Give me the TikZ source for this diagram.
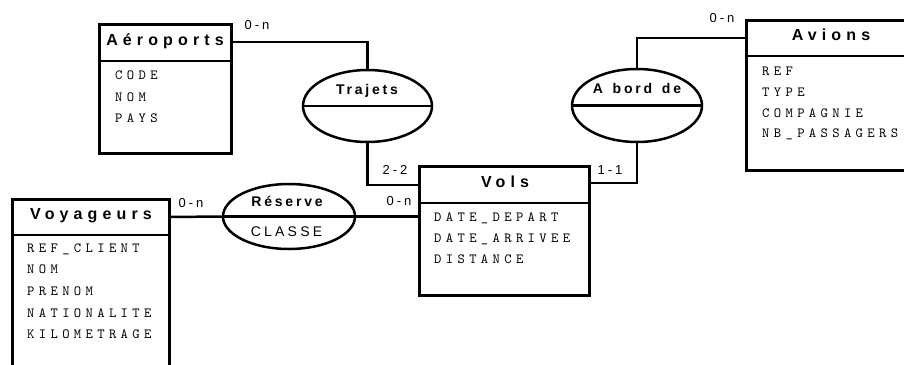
\documentclass[tikz,border=0pt]{standalone}
\usepackage{fontspec}
\usetikzlibrary{shapes.geometric}

% Spaced-out faces used throughout the schema
\newfontfamily\entityfont[LetterSpace=32]{Liberation Sans}
\newfontfamily\relationfont[LetterSpace=20]{Liberation Sans}
\newfontfamily\cardfont[LetterSpace=23]{Liberation Sans}
\newfontfamily\attrfont[LetterSpace=31]{lmmono10-regular.otf}

\tikzset{
  entity/.style={draw, line width=2.7pt, rectangle, inner sep=0pt, anchor=north west},
  relation/.style={draw, line width=2.5pt, ellipse, inner sep=0pt,
                   minimum width=129pt, minimum height=72pt},
  link/.style={line width=2.5pt},
  divider/.style={line width=2.5pt},
  entitytitle/.style={font=\entityfont\bfseries\fontsize{16pt}{16pt}\selectfont,
                      anchor=base, inner sep=0pt},
  reltitle/.style={font=\relationfont\bfseries\fontsize{14pt}{14pt}\selectfont,
                   anchor=base, inner sep=0pt},
  relattr/.style={font=\cardfont\fontsize{14pt}{14pt}\selectfont,
                  anchor=base, inner sep=0pt},
  card/.style={font=\cardfont\fontsize{13pt}{13pt}\selectfont,
               anchor=base, inner sep=0pt},
  attr/.style={font=\attrfont\fontsize{14pt}{14pt}\selectfont,
               anchor=base west, inner sep=0pt},
}

\begin{document}
\begin{tikzpicture}[x=1pt, y=-1pt]
  \useasboundingbox (0,0) rectangle (904,364);
  \fill[white] (0,0) rectangle (904,364);
  \clip (0,0) rectangle (904,364);

  % ---- entities ----
  \node[entity, minimum width=132pt, minimum height=129pt] (aero) at (98,23) {};
  \draw[divider] ([yshift=-38pt]aero.north west) -- ([yshift=-38pt]aero.north east);
  \node[entitytitle] (aerot) at (165,45) {Aéroports};
  \foreach \t [count=\i from 0] in {CODE,NOM,PAYS}
    \node[attr] (aero-\i) at (115,79.5+21.5*\i) {\t};

  \node[entity, minimum width=170pt, minimum height=150pt] (avions) at (745,19) {};
  \draw[divider] ([yshift=-37pt]avions.north west) -- ([yshift=-37pt]avions.north east);
  \node[entitytitle] (avionst) at (831,40) {Avions};
  \foreach \t [count=\i from 0] in {REF,TYPE,COMPAGNIE,NB\_PASSAGERS}
    \node[attr] (avions-\i) at (762,75.5+20.8*\i) {\t};

  \node[entity, minimum width=170pt, minimum height=129pt] (vols) at (418,165) {};
  \draw[divider] ([yshift=-38pt]vols.north west) -- ([yshift=-38pt]vols.north east);
  \node[entitytitle] (volst) at (505,187) {Vols};
  \foreach \t [count=\i from 0] in {DATE\_DEPART,DATE\_ARRIVEE,DISTANCE}
    \node[attr] (vols-\i) at (434,221.5+21*\i) {\t};

  \node[entity, minimum width=157pt, minimum height=190pt] (voyag) at (11,198) {};
  \draw[divider] ([yshift=-37pt]voyag.north west) -- ([yshift=-37pt]voyag.north east);
  \node[entitytitle] (voyagt) at (91,219) {Voyageurs};
  \foreach \t [count=\i from 0] in {REF\_CLIENT,NOM,PRENOM,NATIONALITE,KILOMETRAGE}
    \node[attr] (voyag-\i) at (27,252+21.7*\i) {\t};

  % ---- relations ----
  \node[relation] (traj) at (367.5,106) {};
  \draw[divider] (traj.west) -- (traj.east);
  \node[reltitle] (trajt) at (367,94.3) {Trajets};

  \node[relation, minimum width=130pt, minimum height=73pt] (abord) at (637,105.5) {};
  \draw[divider] (abord.west) -- (abord.east);
  \node[reltitle] (abordt) at (637,93.5) {A\hspace{3pt} bord\hspace{3pt} de};

  \node[relation, minimum width=132pt, minimum height=65pt] (reserve) at (289,216.5) {};
  \draw[divider] (reserve.west) -- (reserve.east);
  \node[reltitle] (reservet) at (287,206) {Réserve};
  \node[relattr] (classe) at (286.5,236.7) {CLASSE};

  % ---- connectors ----
  \draw[link] ([yshift=-19pt]aero.north east) -| (traj.north);
  \draw[link] (traj.south) |- ([yshift=-20pt]vols.north west);
  \draw[link] ([yshift=-19pt]avions.north west) -| (abord.north);
  \draw[link] (abord.south) |- ([yshift=-18pt]vols.north east);
  \draw[link] ([yshift=-19pt]voyag.north east) -- (reserve.west);
  \draw[link] (reserve.east) -- (vols.west |- reserve.east);

  % ---- cardinalities ----
  \node[card] (c1) at (257,29.5) {0-n};
  \node[card] (c2) at (395,174) {2-2};
  \node[card] (c3) at (722,23) {0-n};
  \node[card] (c4) at (610,174) {1-1};
  \node[card] (c5) at (191,207) {0-n};
  \node[card] (c6) at (399,205) {0-n};
\end{tikzpicture}
\end{document}
